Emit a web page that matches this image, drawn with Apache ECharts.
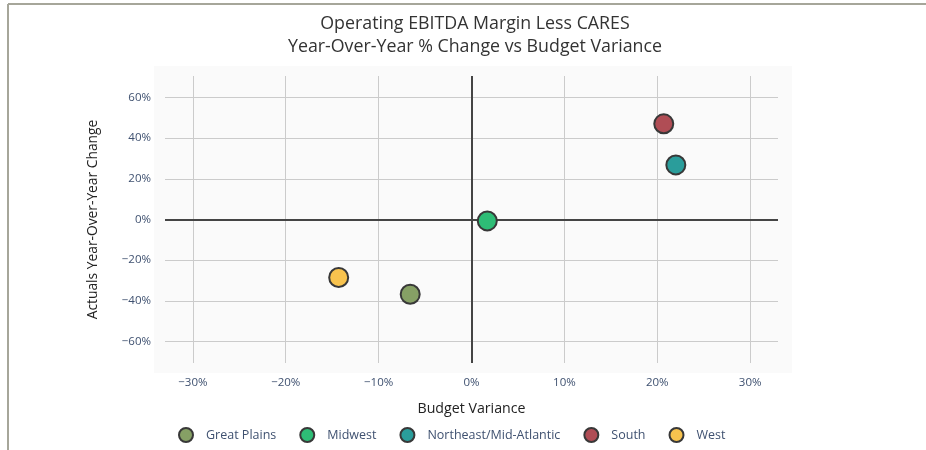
<!DOCTYPE html>
<html>
<head>
<meta charset="utf-8">
<script src="https://cdn.jsdelivr.net/npm/echarts@6/dist/echarts.min.js"></script>
<style>
  html, body { margin: 0; padding: 0; background: #fff; }
  #chart { width: 926px; height: 450px; }
</style>
</head>
<body>
<div id="chart"></div>
<script>
// regions, budget variance (%) and actuals year-over-year change (%)
const regions = ['Great Plains', 'Midwest', 'Northeast/Mid-Atlantic', 'South', 'West'];
const budgetVariance = [-6.6, 1.7, 22.0, 20.7, -14.3];
const yoyChange = [-36.7, -0.7, 26.8, 47.0, -28.5];
const regionColors = ['#86a065', '#2ebd76', '#2a9d9b', '#b04d55', '#f8c34e'];

const xTicks = [-30, -20, -10, 0, 10, 20, 30];
const yTicks = [-60, -40, -20, 0, 20, 40, 60];

const pct = v => (v < 0 ? '\u2212' : '') + Math.abs(v) + '%';
const tickColor = '#3f5170';
const font = '"Open Sans", "Noto Sans", sans-serif';

const chart = echarts.init(document.getElementById('chart'));

// grid lines and the two zero lines, drawn as mark lines under the points
const gridStyle = { color: '#cbcbcb', width: 1, type: 'solid' };
const zeroStyle = { color: '#444', width: 2, type: 'solid' };
const gridLines = [];
xTicks.forEach(v => {
  if (v !== 0) gridLines.push({ xAxis: v, lineStyle: gridStyle });
});
yTicks.forEach(v => {
  if (v !== 0) gridLines.push({ yAxis: v, lineStyle: gridStyle });
});
// zero lines last so they sit on top of the grey ones
gridLines.push({ xAxis: 0, lineStyle: zeroStyle });
gridLines.push({ yAxis: 0, lineStyle: zeroStyle });

const series = regions.map((name, i) => ({
  name,
  type: 'scatter',
  z: 5,
  symbolSize: 19,
  itemStyle: { color: regionColors[i], borderColor: '#383838', borderWidth: 2, opacity: 1 },
  data: [[budgetVariance[i], yoyChange[i]]],
}));

series.unshift({
  type: 'scatter',
  z: 1,
  silent: true,
  data: [],
  markLine: {
    silent: true,
    symbol: 'none',
    label: { show: false },
    lineStyle: { type: 'solid' },
    animation: false,
    data: gridLines,
  },
});

chart.setOption({
  animation: false,
  textStyle: { fontFamily: font },
  graphic: [
    {
      type: 'rect',
      z: -10,
      shape: { x: 154, y: 66, width: 638, height: 307 },
      style: { fill: '#fafafa' },
    },
    {
      type: 'line',
      shape: { x1: 8, y1: 4, x2: 926, y2: 4 },
      style: { stroke: '#a6a69a', lineWidth: 2 },
    },
    {
      type: 'line',
      shape: { x1: 8, y1: 4, x2: 8, y2: 450 },
      style: { stroke: '#a6a69a', lineWidth: 2 },
    },
  ],
  title: {
    text: 'Operating EBITDA Margin Less CARES\nYear-Over-Year % Change vs Budget Variance',
    left: 470,
    textAlign: 'center',
    top: 7,
    textStyle: { fontFamily: font, fontSize: 17.8, fontWeight: 'normal', color: '#333', lineHeight: 23 },
  },
  legend: {
    left: 173,
    top: 422,
    icon: 'circle',
    itemWidth: 30,
    itemHeight: 14,
    itemGap: 23,
    textStyle: { fontFamily: font, fontSize: 12.5, color: tickColor },
    itemStyle: { borderColor: '#383838', borderWidth: 2 },
    data: regions,
  },
  grid: { left: 165, right: 148, top: 76, bottom: 87 },
  xAxis: {
    type: 'value',
    min: -33,
    max: 33,
    name: 'Budget Variance',
    nameLocation: 'middle',
    nameGap: 39,
    nameTextStyle: { fontFamily: font, fontSize: 14.2, color: '#222' },
    axisLine: { show: false },
    axisTick: { show: false },
    splitLine: { show: false },
    axisLabel: {
      customValues: xTicks,
      formatter: pct,
      margin: 14,
      fontFamily: font,
      fontSize: 11.5,
      color: tickColor,
    },
  },
  yAxis: {
    type: 'value',
    min: -70.5,
    max: 70.5,
    name: 'Actuals Year-Over-Year Change',
    nameLocation: 'middle',
    nameGap: 65,
    nameTextStyle: { fontFamily: font, fontSize: 13.8, color: '#222' },
    axisLine: { show: false },
    axisTick: { show: false },
    splitLine: { show: false },
    axisLabel: {
      customValues: yTicks,
      formatter: pct,
      margin: 14,
      fontFamily: font,
      fontSize: 11.5,
      color: tickColor,
    },
  },
  series,
});
</script>
</body>
</html>
